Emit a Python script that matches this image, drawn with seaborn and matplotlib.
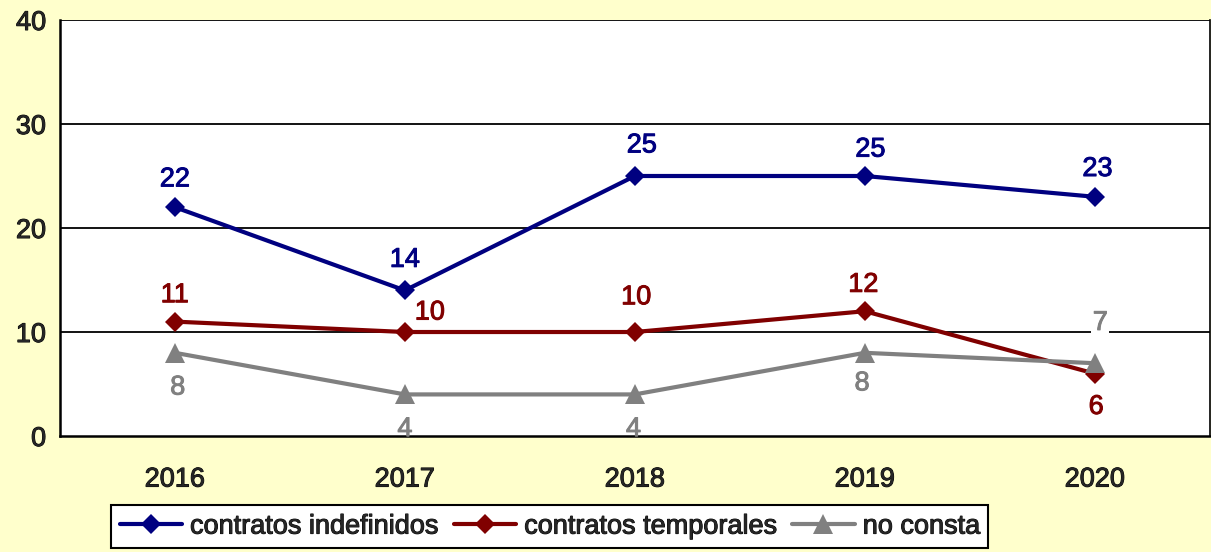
import pandas as pd
import matplotlib.pyplot as plt
import matplotlib.patheffects as pe
import seaborn as sns

years = ['2016', '2017', '2018', '2019', '2020']
indefinidos = [22, 14, 25, 25, 23]
temporales = [11, 10, 10, 12, 6]
no_consta = [8, 4, 4, 8, 7]

series_names = ['contratos indefinidos', 'contratos temporales', 'no consta']
colors = ['#000080', '#800000', '#808080']

df = pd.DataFrame({
    'year': years * 3,
    'value': indefinidos + temporales + no_consta,
    'serie': [s for s in series_names for _ in years],
})
df['pos'] = df['year'].map({y: i for i, y in enumerate(years)})

sns.set_style('white')
plt.rcParams['font.family'] = ['Liberation Sans', 'DejaVu Sans']
FS = 19.5


def thick(color):
    return [pe.withStroke(linewidth=0.7, foreground=color)]


fig = plt.figure(figsize=(12.11, 5.52), dpi=100, facecolor='#FFFFCC')
ax = fig.add_axes([0.0495, 0.2101, 0.9495, 0.7537])
ax.set_facecolor('white')

sns.lineplot(data=df, x='pos', y='value', hue='serie', style='serie',
             palette=colors, markers=['D', 'D', '^'], dashes=False,
             linewidth=3, markersize=10, markeredgewidth=0, ax=ax)
for line in ax.lines:
    if line.get_marker() == '^':
        line.set_markersize(15)

ax.set_xlim(-0.5, 4.5)
ax.set_ylim(0, 40)
ax.set_yticks([0, 10, 20, 30, 40])
ax.set_xticks(range(len(years)))
ax.set_xticklabels(years)
ax.set_xticks([i - 0.5 for i in range(len(years) + 1)], minor=True)
ax.tick_params(axis='x', which='major', length=0, pad=22, labelsize=FS)
ax.tick_params(axis='x', which='minor', length=6, width=1.5, color='black', direction='out')
ax.tick_params(axis='y', length=5, width=1.5, color='black', labelsize=FS, pad=5, direction='out')
for t in ax.get_xticklabels() + ax.get_yticklabels():
    t.set_path_effects(thick('black'))
ax.set_xlabel('')
ax.set_ylabel('')
for y in [10, 20, 30, 40]:
    ax.axhline(y, color='black', linewidth=1.3, zorder=0.5)
for side in ['left', 'bottom', 'right']:
    ax.spines[side].set_color('black')
    ax.spines[side].set_linewidth(1.8)
ax.spines['right'].set_linewidth(1.2)
ax.spines['top'].set_visible(False)

offsets = [
    [(0, 20), (0, 22), (5, 22), (4, 19), (2, 20)],
    [(0, 19), (18, 14), (1, 25), (-1, 19), (1, -24)],
    [(2, -25), (0, -25), (-1, -25), (-2, -22), (4, 29)],
]
for k, (vals, c) in enumerate(zip([indefinidos, temporales, no_consta], colors)):
    for i, v in enumerate(vals):
        dx, dy = offsets[k][i]
        bbox = None
        if k == 2 and i == 4:
            bbox = dict(facecolor='white', edgecolor='none', pad=1)
        ax.annotate(str(v), (i, v), xytext=(dx, dy), textcoords='offset points',
                    ha='center', va='center', color=c, fontsize=FS,
                    bbox=bbox, zorder=5, path_effects=thick(c))

handles, labels = ax.get_legend_handles_labels()
ax.legend_.remove()
leg = fig.legend(handles, labels, loc='center', bbox_to_anchor=(0.454, 0.046),
                 ncol=3, frameon=True, fancybox=False,
                 prop={'size': FS},
                 handlelength=2.3, handletextpad=0.3, columnspacing=0.55,
                 borderpad=0.3, borderaxespad=0)
for t in leg.get_texts():
    t.set_path_effects(thick('black'))
leg.get_frame().set_edgecolor('black')
leg.get_frame().set_linewidth(1.5)
leg.get_frame().set_facecolor('white')
leg.get_frame().set_alpha(1)

fig.savefig('out.png', dpi=100, facecolor=fig.get_facecolor())
